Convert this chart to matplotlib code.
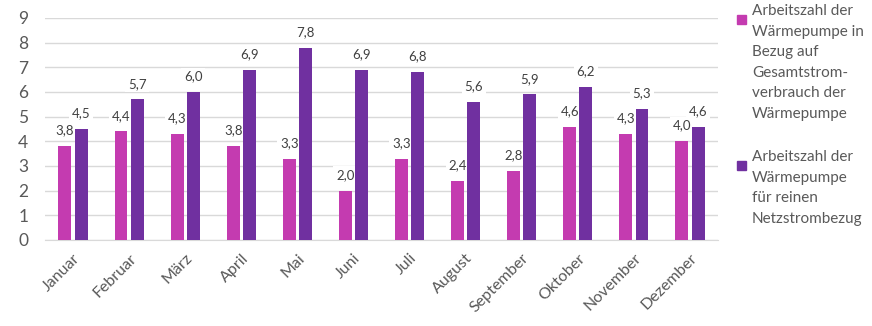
import matplotlib.pyplot as plt
import numpy as np
from matplotlib.patches import Rectangle

months = ["Januar", "Februar", "März", "April", "Mai", "Juni", "Juli",
          "August", "September", "Oktober", "November", "Dezember"]
az_gesamt = [3.8, 4.4, 4.3, 3.8, 3.3, 2.0, 3.3, 2.4, 2.8, 4.6, 4.3, 4.0]
az_netz = [4.5, 5.7, 6.0, 6.9, 7.8, 6.9, 6.8, 5.6, 5.9, 6.2, 5.3, 4.6]
legend_labels = [
    "Arbeitszahl der\nWärmepumpe in\nBezug auf\nGesamtstrom-\nverbrauch der\nWärmepumpe",
    "Arbeitszahl der\nWärmepumpe\nfür reinen\nNetzstrombezug",
]

pink = "#C43BB0"
purple = "#7030A0"
text_col = "#595959"

plt.rcParams["font.family"] = ["Lato", "DejaVu Sans"]

fig = plt.figure(figsize=(8.72, 3.26), dpi=100)
ax = fig.add_axes([45 / 872, 1 - 240 / 326, 673 / 872, 222 / 326])

x = np.arange(len(months))
w = 0.23
off = 0.145
b1 = ax.bar(x - off, az_gesamt, w, color=pink, zorder=5)
b2 = ax.bar(x + off, az_netz, w, color=purple, zorder=5)

# value labels sit on a white box over the grid, but under the bars
box = dict(boxstyle="square,pad=0.2", fc="white", ec="none")
for bars, vals in ((b1, az_gesamt), (b2, az_netz)):
    for rect, v in zip(bars, vals):
        ax.annotate(f"{v:.1f}".replace(".", ","),
                    (rect.get_x() + rect.get_width() / 2, v),
                    xytext=(0, 7), textcoords="offset points",
                    ha="center", va="bottom", fontsize=9.5,
                    color="#404040", bbox=box, zorder=4)

ax.set_xlim(-0.5, len(months) - 0.5)
ax.set_ylim(0, 9)
ax.set_yticks(range(10))
ax.yaxis.grid(True, color="#D9D9D9", lw=1, zorder=0)
ax.set_axisbelow(True)
for s in ("top", "right", "left"):
    ax.spines[s].set_visible(False)
ax.spines["bottom"].set_color("#D9D9D9")
ax.tick_params(axis="both", length=0, colors=text_col)
ax.tick_params(axis="y", labelsize=12.5, pad=12)
ax.set_xticks(x)
ax.set_xticklabels(months, rotation=45, ha="right", rotation_mode="anchor",
                   fontsize=11.5, color=text_col)
ax.tick_params(axis="x", pad=8)

# legend drawn by hand to keep the wrapped labels
for y_top, col, lab in ((12, pink, legend_labels[0]), (158, purple, legend_labels[1])):
    fig.patches.append(Rectangle((737 / 872, 1 - (y_top + 12) / 326), 9 / 872, 9 / 326,
                                 transform=fig.transFigure, color=col))
    fig.text(752 / 872, 1 - (y_top - 8) / 326, lab, fontsize=11, color=text_col,
             va="top", ha="left", linespacing=1.6)

fig.savefig("out.png", dpi=100)
